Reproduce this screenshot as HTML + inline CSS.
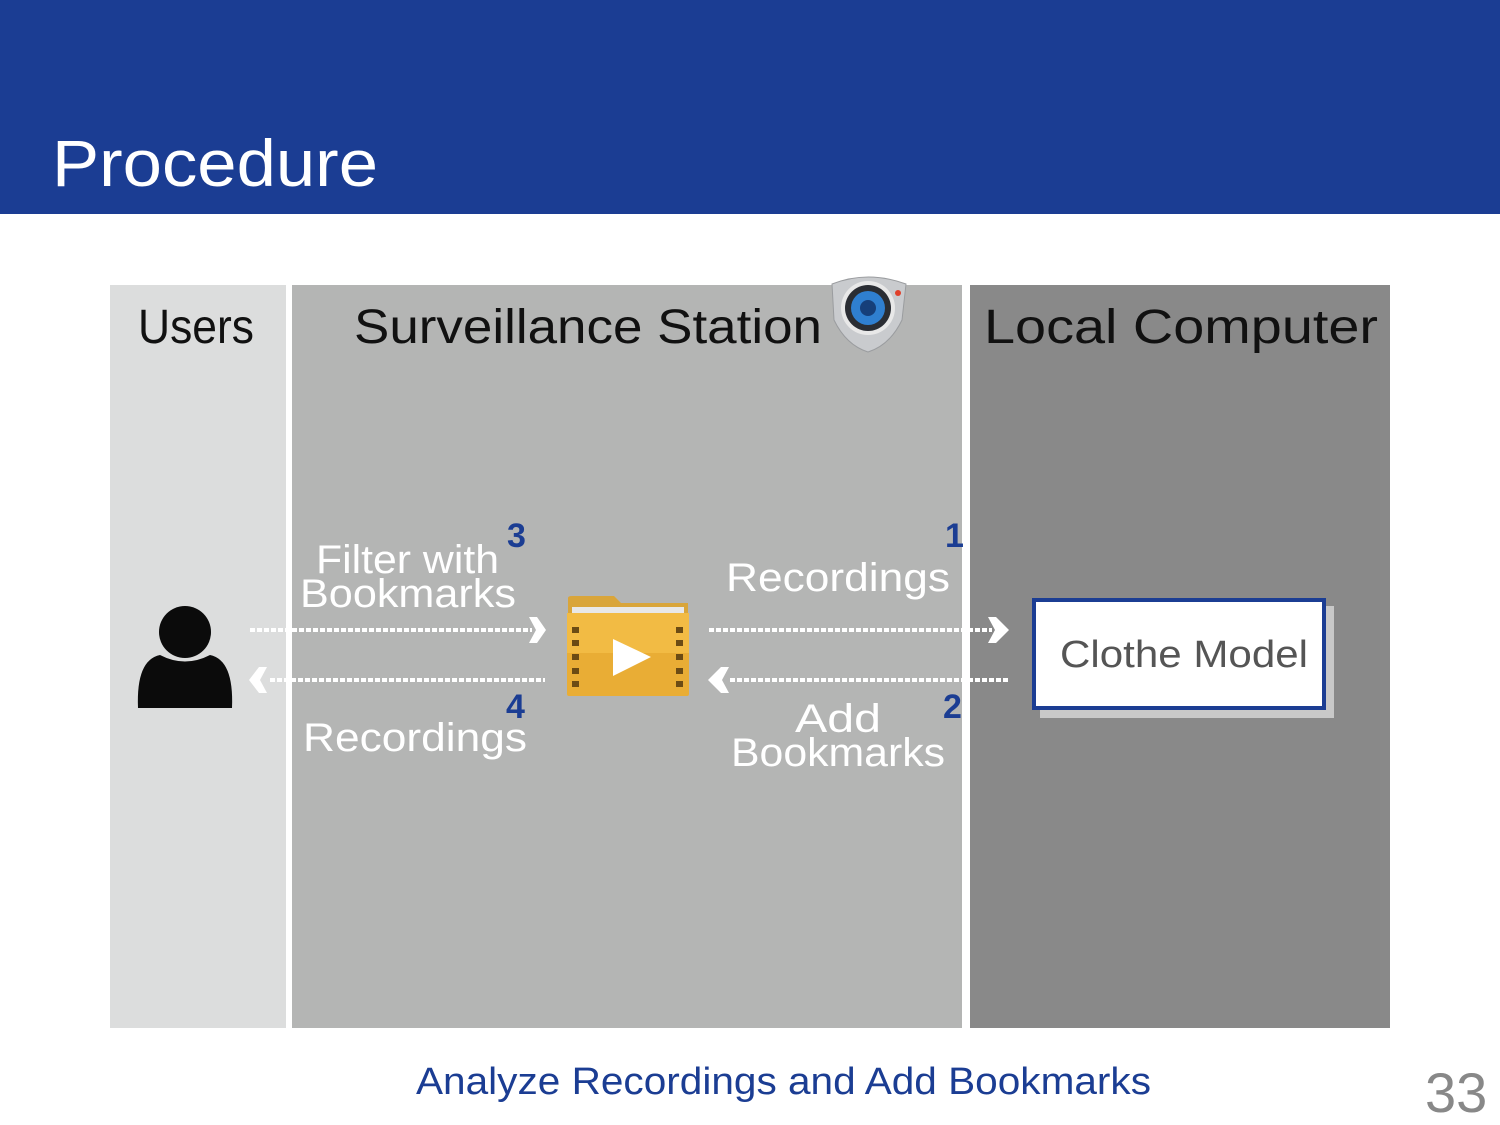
<!DOCTYPE html>
<html><head><meta charset="utf-8"><style>
html,body{margin:0;padding:0;background:#fff;}
body{width:1500px;height:1125px;overflow:hidden;position:relative;font-family:"Liberation Sans",sans-serif;}
</style></head><body>
<svg width="1500" height="1125" viewBox="0 0 1500 1125" xmlns="http://www.w3.org/2000/svg" style="position:absolute;left:0;top:0">
<rect x="0" y="0" width="1500" height="214" fill="#1b3d93"/>
<text x="52" y="186" font-size="66" fill="#fff" font-family="Liberation Sans, sans-serif" textLength="326" lengthAdjust="spacingAndGlyphs">Procedure</text>

<rect x="110" y="285" width="176" height="743" fill="#dcdddd"/>
<rect x="292" y="285" width="670" height="743" fill="#b4b5b4"/>
<rect x="970" y="285" width="420" height="743" fill="#898989"/>

<g font-family="Liberation Sans, sans-serif" fill="#111" font-size="48">
<text x="138" y="343" textLength="116" lengthAdjust="spacingAndGlyphs">Users</text>
<text x="354" y="343" textLength="468" lengthAdjust="spacingAndGlyphs">Surveillance Station</text>
<text x="984" y="343" textLength="394" lengthAdjust="spacingAndGlyphs">Local Computer</text>
</g>

<!-- camera icon -->
<path d="M832 284 Q868 270 906 284 L902 320 Q890 345 868 352 Q846 345 834 320 Z" fill="#c9cbce" stroke="#9a9c9f" stroke-width="1"/>
<circle cx="868" cy="308" r="27" fill="#e8e8e8"/>
<circle cx="868" cy="308" r="23" fill="#2a2d33"/>
<circle cx="868" cy="308" r="17" fill="#2f7fd0"/>
<circle cx="868" cy="308" r="8" fill="#163f7a"/>
<circle cx="898" cy="293" r="3" fill="#e0402a"/>

<!-- person -->
<circle cx="185" cy="632" r="26" fill="#0b0b0b"/>
<path d="M138 708 Q136 660 160 655 Q185 668 210 655 Q234 660 232 708 Z" fill="#0b0b0b"/>

<!-- dotted lines -->
<g stroke="#fff" stroke-width="4" stroke-dasharray="5,2" fill="none">
<line x1="250" y1="630" x2="532" y2="630"/>
<line x1="270" y1="680" x2="545" y2="680"/>
<line x1="709" y1="630" x2="992" y2="630"/>
<line x1="730" y1="680" x2="1008" y2="680"/>
</g>
<g fill="#fff">
<polygon points="529,617 537,617 546,630 537,643 529,643 536,630"/>
<polygon points="988,617 996,617 1009,630 996,643 988,643 995,630"/>
<polygon points="267,667 259,667 249,680 259,693 267,693 260,680"/>
<polygon points="729,667 721,667 708,680 721,693 729,693 722,680"/>
</g>

<!-- folder -->
<path d="M568 604 L568 598 Q568 596 572 596 L614 596 L622 604 Z" fill="#d9a53a"/>
<rect x="568" y="603" width="120" height="16" fill="#d9a53a"/>
<rect x="572" y="607" width="112" height="8" fill="#e8e8e8"/>
<rect x="567" y="613" width="122" height="83" rx="2" fill="#e9ad35"/>
<rect x="567" y="613" width="122" height="40" fill="#f2bb44"/>
<g fill="#6b4b14">
<rect x="572" y="627" width="7" height="6"/><rect x="572" y="640" width="7" height="6"/><rect x="572" y="654" width="7" height="6"/><rect x="572" y="668" width="7" height="6"/><rect x="572" y="681" width="7" height="6"/>
<rect x="676" y="627" width="7" height="6"/><rect x="676" y="640" width="7" height="6"/><rect x="676" y="654" width="7" height="6"/><rect x="676" y="668" width="7" height="6"/><rect x="676" y="681" width="7" height="6"/>
</g>
<polygon points="613,639 651,657 613,676" fill="#fff"/>

<!-- white labels -->
<g font-family="Liberation Sans, sans-serif" fill="#fff" font-size="40">
<text x="316" y="573" textLength="183" lengthAdjust="spacingAndGlyphs">Filter with</text>
<text x="300" y="607" textLength="216" lengthAdjust="spacingAndGlyphs">Bookmarks</text>
<text x="303" y="751" textLength="224" lengthAdjust="spacingAndGlyphs">Recordings</text>
<text x="726" y="591" textLength="224" lengthAdjust="spacingAndGlyphs">Recordings</text>
<text x="795" y="732" textLength="86" lengthAdjust="spacingAndGlyphs">Add</text>
<text x="731" y="766" textLength="214" lengthAdjust="spacingAndGlyphs">Bookmarks</text>
</g>
<g font-family="Liberation Sans, sans-serif" fill="#1b3d93" font-size="34" font-weight="bold">
<text x="507" y="547">3</text>
<text x="506" y="718">4</text>
<text x="945" y="547">1</text>
<text x="943" y="718">2</text>
</g>

<!-- clothe model -->
<rect x="1040" y="606" width="294" height="112" fill="#c8c8c8"/>
<rect x="1034" y="600" width="290" height="108" fill="#fff" stroke="#1b3d93" stroke-width="4"/>
<text x="1060" y="667" font-family="Liberation Sans, sans-serif" font-size="38" fill="#555" textLength="248" lengthAdjust="spacingAndGlyphs">Clothe Model</text>

<text x="416" y="1094" font-family="Liberation Sans, sans-serif" font-size="38" fill="#1b3d93" textLength="735" lengthAdjust="spacingAndGlyphs">Analyze Recordings and Add Bookmarks</text>
<text x="1425" y="1112" font-family="Liberation Sans, sans-serif" font-size="56" fill="#888">33</text>
</svg>
</body></html>
